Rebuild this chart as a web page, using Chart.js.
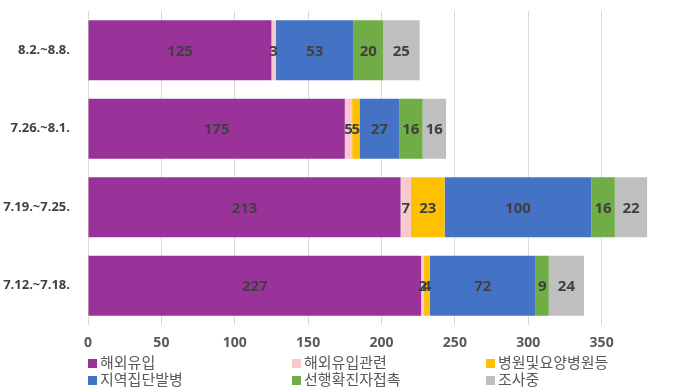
<!DOCTYPE html>
<html>
<head>
<meta charset="utf-8">
<script src="https://cdn.jsdelivr.net/npm/chart.js@4"></script>
<style>
  html, body { margin: 0; padding: 0; background: #fff; }
  #wrap { position: relative; width: 680px; height: 389px; }
  #legend {
    position: absolute; left: 88px; top: 353px;
    display: grid; grid-template-columns: 204px 194px auto;
    font-family: "Noto Sans CJK KR", sans-serif; font-size: 15px; line-height: 17px;
    color: #595959;
  }
  #legend div { white-space: nowrap; }
  #legend span.box { display: inline-block; width: 9px; height: 9px; margin-right: 3px; vertical-align: 0px; }
</style>
</head>
<body>
<div id="wrap">
  <canvas id="chart" width="680" height="389"></canvas>
  <div id="legend"></div>
</div>
<script>
// 주간 감염경로별 확진자 수
const weeks = ['8.2.~8.8.', '7.26.~8.1.', '7.19.~7.25.', '7.12.~7.18.'];

const overseas        = [125, 175, 213, 227]; // 해외유입
const overseasRelated = [3, 5, 7, 2];         // 해외유입관련
const hospitals       = [0, 5, 23, 4];        // 병원및요양병원등
const clusters        = [53, 27, 100, 72];    // 지역집단발병
const contacts        = [20, 16, 16, 9];      // 선행확진자접촉
const investigating   = [25, 16, 22, 24];     // 조사중

const xTicks = [0, 50, 100, 150, 200, 250, 300, 350];

const seriesNames = ['해외유입', '해외유입관련', '병원및요양병원등', '지역집단발병', '선행확진자접촉', '조사중'];
const seriesData = [overseas, overseasRelated, hospitals, clusters, contacts, investigating];
const seriesColors = ['#993399', '#F8C8CE', '#FFC000', '#4472C4', '#70AD47', '#BFBFBF'];

// 막대 안의 값 표시
const barLabels = {
    id: 'barLabels',
    afterDatasetsDraw(chart) {
        const ctx = chart.ctx;
        ctx.save();
        ctx.font = 'bold 15px "Open Sans", sans-serif';
        ctx.fillStyle = '#404040';
        ctx.textAlign = 'center';
        ctx.textBaseline = 'middle';
        chart.data.datasets.forEach((ds, i) => {
            const meta = chart.getDatasetMeta(i);
            meta.data.forEach((bar, j) => {
                const v = ds.data[j];
                if (!v) return;
                ctx.fillText(String(v), (bar.x + bar.base) / 2, bar.y + 1);
            });
        });
        ctx.restore();
    }
};

const chart = new Chart(document.getElementById('chart'), {
    type: 'bar',
    data: {
        labels: weeks,
        datasets: seriesNames.map((name, i) => ({
            label: name,
            data: seriesData[i],
            backgroundColor: seriesColors[i],
            borderWidth: 0,
            categoryPercentage: 1,
            barPercentage: 0.765
        }))
    },
    options: {
        indexAxis: 'y',
        responsive: false,
        animation: false,
        layout: { padding: { top: 11, right: 5, bottom: 34, left: 0 } },
        plugins: {
            legend: { display: false },
            tooltip: { enabled: false }
        },
        scales: {
            x: {
                stacked: true,
                min: 0,
                max: 400,
                afterBuildTicks: s => { s.ticks = xTicks.map(v => ({ value: v })); },
                afterFit: s => { s.height = 30; },
                grid: { color: '#d9d9d9', drawTicks: false },
                border: { display: false },
                ticks: {
                    padding: 10,
                    color: '#595959',
                    font: { family: '"Open Sans", sans-serif', size: 14, weight: 'bold' }
                }
            },
            y: {
                stacked: true,
                grid: { display: false },
                border: { display: false },
                afterFit: s => { s.width = 88; s.paddingTop = 0; s.paddingBottom = 0; },
                ticks: {
                    padding: 10,
                    color: '#404040',
                    font: { family: '"Open Sans", sans-serif', size: 13, weight: 'bold' }
                }
            }
        }
    },
    plugins: [barLabels]
});

// 범례 (3열)
const legendEl = document.getElementById('legend');
seriesNames.forEach((name, i) => {
    const item = document.createElement('div');
    item.innerHTML = '<span class="box" style="background:' + seriesColors[i] + '"></span>' + name;
    legendEl.appendChild(item);
});
</script>
</body>
</html>
